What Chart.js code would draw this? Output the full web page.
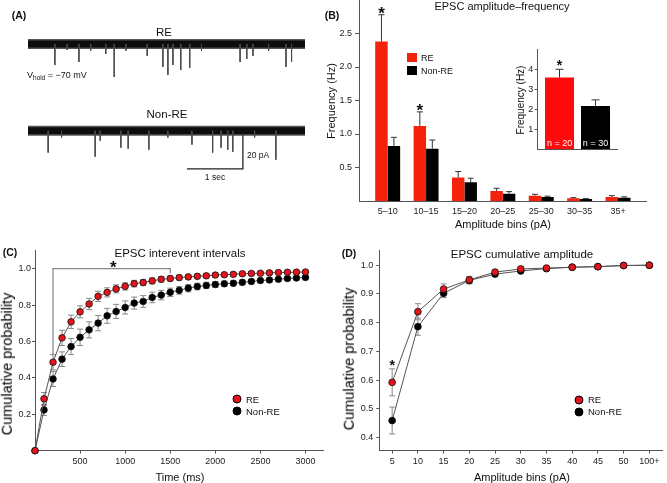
<!DOCTYPE html>
<html><head><meta charset="utf-8">
<script src="https://cdn.jsdelivr.net/npm/chart.js@4.4.1/dist/chart.umd.min.js"></script>
<style>
html,body{margin:0;padding:0;background:#fff;}
#fig{position:relative;width:667px;height:483px;overflow:hidden;font-family:"Liberation Sans",Arial,sans-serif;color:#111;}
.box{position:absolute;}
.t{position:absolute;white-space:nowrap;transform:translate(-50%,-50%);line-height:1;}
.tl{position:absolute;white-space:nowrap;transform:translate(0,-50%);line-height:1;}
.rot{position:absolute;white-space:nowrap;transform:translate(-50%,-50%) rotate(-90deg);line-height:1;}
.dot{position:absolute;border-radius:50%;border:1px solid #000;transform:translate(-50%,-50%);box-sizing:border-box;}
.sq{position:absolute;}
.pl{font-weight:bold;font-size:10.5px;}
</style></head><body>
<div id="fig">
  <div class="box" style="left:0;top:0;"><canvas id="cA" width="320" height="200"></canvas></div>
  <div class="box" style="left:320px;top:0;"><canvas id="cB" width="347" height="240"></canvas></div>
  <div class="box" style="left:490px;top:40px;"><canvas id="cI" width="140" height="120"></canvas></div>
  <div class="box" style="left:0;top:240px;"><canvas id="cC" width="335" height="243"></canvas></div>
  <div class="box" style="left:335px;top:240px;"><canvas id="cD" width="332" height="243"></canvas></div>

  <!-- Panel A text -->
  <div class="t pl" style="left:19px;top:15px;">(A)</div>
  <div class="t" style="left:164px;top:33px;font-size:11.5px;">RE</div>
  <div class="t" style="left:167px;top:115px;font-size:11.5px;">Non-RE</div>
  <div class="tl" style="left:27px;top:76px;font-size:9px;">V<sub style="font-size:6.5px;vertical-align:-2px;">hold</sub> = −70 mV</div>
  <div class="tl" style="left:247px;top:155px;font-size:8.5px;">20 pA</div>
  <div class="t" style="left:215px;top:177px;font-size:8.5px;">1 sec</div>

  <!-- Panel B text -->
  <div class="t pl" style="left:332px;top:15px;">(B)</div>
  <div class="t" style="left:502px;top:6px;font-size:11px;">EPSC amplitude–frequency</div>
  <div class="rot" style="left:331px;top:101px;font-size:11px;">Frequency (Hz)</div>
  <div class="t" style="left:503px;top:224px;font-size:11px;">Amplitude bins (pA)</div>
  <div class="sq" style="left:407px;top:53px;width:10px;height:9px;background:#f3230b;"></div>
  <div class="sq" style="left:407px;top:66px;width:10px;height:9px;background:#000;"></div>
  <div class="tl" style="left:421px;top:58px;font-size:9px;">RE</div>
  <div class="tl" style="left:421px;top:71px;font-size:9px;">Non-RE</div>
  <div class="rot" style="left:521px;top:100px;font-size:10px;">Frequency (Hz)</div>

  <!-- Panel C text -->
  <div class="t pl" style="left:10px;top:252px;">(C)</div>
  <div class="t" style="left:180px;top:254px;font-size:11.5px;">EPSC interevent intervals</div>
  <div class="rot" style="left:6.5px;top:364px;font-size:14.5px;color:#000;">Cumulative probability</div>
  <div class="t" style="left:180px;top:477px;font-size:11px;">Time (ms)</div>
  <div class="dot" style="left:237px;top:399px;width:9px;height:9px;background:#e3141b;"></div>
  <div class="dot" style="left:237px;top:411px;width:9px;height:9px;background:#000;"></div>
  <div class="tl" style="left:246px;top:399.5px;font-size:9.5px;">RE</div>
  <div class="tl" style="left:246px;top:411.5px;font-size:9.5px;">Non-RE</div>

  <!-- Panel D text -->
  <div class="t pl" style="left:349px;top:253px;">(D)</div>
  <div class="t" style="left:522px;top:255px;font-size:11.5px;">EPSC cumulative amplitude</div>
  <div class="rot" style="left:348.5px;top:359px;font-size:14.5px;color:#000;">Cumulative probability</div>
  <div class="t" style="left:522px;top:477px;font-size:11px;">Amplitude bins (pA)</div>
  <div class="dot" style="left:578.5px;top:399.5px;width:9px;height:9px;background:#e3141b;"></div>
  <div class="dot" style="left:578.5px;top:411.5px;width:9px;height:9px;background:#000;"></div>
  <div class="tl" style="left:588px;top:400px;font-size:9.5px;">RE</div>
  <div class="tl" style="left:588px;top:412px;font-size:9.5px;">Non-RE</div>
</div>
<script>
// ================= DATA =================
// Panel A: example traces (events)
const traceDurationSec = 4.95;
const reEventTimeSec = [0.48, 0.70, 0.91, 1.12, 1.39, 1.54, 1.75, 2.13, 2.41, 2.50, 2.59, 2.73, 2.89, 3.10, 3.79, 3.91, 4.02, 4.30, 4.61, 4.71];
const reEventAmpPA  = [12.4, 3.5, 10.6, 4.0, 5.9, 19.4, 4.0, 7.0, 13.5, 18.2, 12.4, 15.3, 14.1, 4.0, 10.6, 8.8, 7.0, 4.0, 13.5, 10.6];
const nonReEventTimeSec = [0.36, 0.60, 1.20, 1.29, 1.66, 1.79, 2.16, 2.50, 2.93, 3.30, 3.45, 3.57, 3.66, 4.05, 4.43];
const nonReEventAmpPA  = [12.9, 4.0, 15.3, 5.9, 10.0, 10.6, 11.2, 4.0, 8.2, 12.9, 10.0, 11.2, 12.4, 4.0, 17.1];
const scaleBarSec = 1;
const scaleBarPA = 20;

// Panel B: amplitude-frequency histogram
const ampBins = ['5–10', '10–15', '15–20', '20–25', '25–30', '30–35', '35+'];
const freqRE = [2.38, 1.12, 0.35, 0.15, 0.08, 0.04, 0.06];
const freqRESem = [0.40, 0.21, 0.09, 0.04, 0.02, 0.01, 0.02];
const freqNonRE = [0.82, 0.78, 0.28, 0.11, 0.06, 0.03, 0.05];
const freqNonRESem = [0.13, 0.13, 0.06, 0.03, 0.012, 0.006, 0.012];
const freqTicks = [0.5, 1.0, 1.5, 2.0, 2.5];
const starBinsB = [0, 1];
const starLevelsB = [2.86, 1.41];

// Panel B inset: mean frequency
const insetGroups = ['RE', 'Non-RE'];
const insetFreq = [3.59, 2.17];
const insetSem = [0.41, 0.30];
const insetN = ['n = 20', 'n = 30'];
const insetTicks = [1, 2, 3, 4];
const insetStarLevel = 4.35;

// Panel C: cumulative interevent intervals
const ieiTimeMs = [0,100,200,300,400,500,600,700,800,900,1000,1100,1200,1300,1400,1500,1600,1700,1800,1900,2000,2100,2200,2300,2400,2500,2600,2700,2800,2900,3000];
const ieiRE = [0,0.285,0.486,0.62,0.708,0.763,0.806,0.848,0.87,0.889,0.903,0.918,0.924,0.933,0.942,0.946,0.951,0.955,0.958,0.961,0.965,0.967,0.969,0.972,0.974,0.975,0.977,0.979,0.98,0.981,0.982];
const ieiRESem = [0,0.035,0.042,0.042,0.037,0.033,0.031,0.028,0.025,0.022,0.02,0.018,0.017,0.016,0.015,0.014,0.013,0.013,0.012,0.012,0.011,0.011,0.01,0.01,0.01,0.009,0.009,0.009,0.008,0.008,0.008];
const ieiNonRE = [0,0.224,0.394,0.503,0.572,0.623,0.664,0.701,0.741,0.765,0.787,0.811,0.82,0.842,0.855,0.87,0.881,0.893,0.902,0.908,0.913,0.917,0.92,0.925,0.93,0.935,0.938,0.942,0.946,0.949,0.952];
const ieiNonRESem = [0,0.03,0.041,0.04,0.044,0.045,0.044,0.042,0.041,0.039,0.036,0.033,0.032,0.029,0.026,0.023,0.021,0.02,0.018,0.017,0.016,0.015,0.014,0.014,0.013,0.012,0.012,0.011,0.011,0.01,0.01];
const ieiXTicks = [500, 1000, 1500, 2000, 2500, 3000];
const ieiYTicks = [0.2, 0.4, 0.6, 0.8, 1.0];
const bracketMs = [200, 1500];
const bracketLevels = [1.0, 0.53, 0.975]; // top, left leg end, right leg end
const ieiStar = [868, 1.03];

// Panel D: cumulative amplitude
const cumBins = ['5', '10', '15', '20', '25', '30', '35', '40', '45', '50', '100+'];
const cumRE = [0.592, 0.838, 0.917, 0.949, 0.976, 0.987, 0.990, 0.993, 0.995, 0.999, 1.0];
const cumRESem = [0.047, 0.028, 0.018, 0.012, 0.008, 0.006, 0.005, 0.004, 0.003, 0.002, 0];
const cumNonRE = [0.459, 0.786, 0.902, 0.947, 0.969, 0.980, 0.988, 0.993, 0.995, 0.999, 1.0];
const cumNonRESem = [0.047, 0.030, 0.015, 0.012, 0.008, 0.006, 0.005, 0.004, 0.003, 0.002, 0];
const cumYTicks = [0.4, 0.5, 0.6, 0.7, 0.8, 0.9, 1.0];
const cumStarLevel = 0.665;

// ================= STYLE / HELPERS =================
const FONT = '"Liberation Sans", Arial, sans-serif';
Chart.defaults.font.family = FONT;
Chart.defaults.color = '#222';
Chart.defaults.animation = false;
const AX = '#555';
const RED_B = '#f3230b', RED_I = '#ff0a0a', RED_P = '#e3141b';

function fixAxis(size, horiz) {
  return function (s) {
    if (horiz) s.height = size; else s.width = size;
    s.paddingTop = 0; s.paddingBottom = 0; s.paddingLeft = 0; s.paddingRight = 0;
  };
}
function setTicks(vals) { return function (s) { s.ticks = vals.map(v => ({ value: v })); }; }

function drawErrLayer(chart, layer) {
  const ctx = chart.ctx;
  chart.data.datasets.forEach((ds, i) => {
    if (!ds.errors || (ds.errLayer || 'after') !== layer) return;
    const meta = chart.getDatasetMeta(i);
    const ys = chart.scales[meta.yAxisID];
    ctx.save();
    ctx.strokeStyle = ds.errColor || '#333';
    ctx.lineWidth = 1;
    const cw = (ds.capW || 6) / 2;
    meta.data.forEach((el, j) => {
      const e = ds.errors[j];
      if (!e) return;
      const raw = ds.data[j];
      const v = (raw !== null && typeof raw === 'object') ? raw.y : raw;
      const x = el.x;
      const yT = ys.getPixelForValue(v + e);
      const yB = ds.errUpOnly ? el.y : ys.getPixelForValue(v - e);
      ctx.beginPath();
      ctx.moveTo(x, yB); ctx.lineTo(x, yT);
      ctx.moveTo(x - cw, yT); ctx.lineTo(x + cw, yT);
      if (!ds.errUpOnly) { ctx.moveTo(x - cw, yB); ctx.lineTo(x + cw, yB); }
      ctx.stroke();
    });
    ctx.restore();
  });
}
const errorBars = {
  id: 'errorBars',
  beforeDatasetsDraw(chart) { drawErrLayer(chart, 'before'); },
  afterDatasetsDraw(chart) { drawErrLayer(chart, 'after'); }
};
Chart.register(errorBars);

function drawStar(ctx, x, y, size) {
  ctx.save();
  ctx.font = 'bold ' + size + 'px ' + FONT;
  ctx.fillStyle = '#111';
  ctx.textAlign = 'center';
  ctx.textBaseline = 'alphabetic';
  ctx.fillText('*', x, y + 0.58 * size);
  ctx.restore();
}

function yAxis(min, max, ticks, width, tickLen, pad, fmt) {
  return {
    type: 'linear', min: min, max: max,
    afterBuildTicks: setTicks(ticks),
    afterFit: fixAxis(width, false),
    border: { display: true, color: AX, width: 1 },
    grid: { display: true, drawOnChartArea: false, drawTicks: true, tickLength: tickLen, color: AX, tickColor: AX },
    ticks: { font: { size: 9 }, color: '#222', padding: pad, autoSkip: false, callback: v => fmt(v) }
  };
}

// ================= PANEL A =================
const reOffset = 80, nonReOffset = 29;          // baseline level of each trace on the drawing axis (pA)
const scaleBarOrigin = [2.84, 6.5];             // sec, pA
function eventPoints(times, amps, off) {
  const pts = [];
  times.forEach((t, i) => { pts.push({ x: t, y: off }, { x: t, y: off - amps[i] }, { x: t, y: null }); });
  return pts;
}
function band(off) { return [{ x: 0, y: off }, { x: traceDurationSec, y: off }]; }
const lineBase = { pointRadius: 0, tension: 0, fill: false, spanGaps: false, borderCapStyle: 'butt' };
new Chart(document.getElementById('cA'), {
  type: 'line',
  data: {
    datasets: [
      Object.assign({ data: eventPoints(reEventTimeSec, reEventAmpPA, reOffset), borderColor: '#4a4a4a', borderWidth: 1 }, lineBase),
      Object.assign({ data: eventPoints(nonReEventTimeSec, nonReEventAmpPA, nonReOffset), borderColor: '#4a4a4a', borderWidth: 1 }, lineBase),
      Object.assign({ data: [
        { x: scaleBarOrigin[0], y: scaleBarOrigin[1] },
        { x: scaleBarOrigin[0] + scaleBarSec, y: scaleBarOrigin[1] },
        { x: scaleBarOrigin[0] + scaleBarSec, y: scaleBarOrigin[1] + scaleBarPA }], borderColor: '#222', borderWidth: 1.3 }, lineBase),
      Object.assign({ data: band(reOffset), borderColor: '#0d0d0d', borderWidth: 7 }, lineBase),
      Object.assign({ data: band(nonReOffset), borderColor: '#0d0d0d', borderWidth: 7 }, lineBase),
      Object.assign({ data: band(reOffset), borderColor: '#555', borderWidth: 10 }, lineBase),
      Object.assign({ data: band(nonReOffset), borderColor: '#555', borderWidth: 10 }, lineBase)
    ]
  },
  options: {
    responsive: false,
    layout: { padding: { left: 28, right: 15, top: 30, bottom: 20 } },
    plugins: { legend: { display: false }, tooltip: { enabled: false } },
    scales: {
      x: { type: 'linear', display: false, min: 0, max: traceDurationSec },
      y: { type: 'linear', display: false, min: 0, max: 88.2 }
    }
  }
});

// ================= PANEL B =================
new Chart(document.getElementById('cB'), {
  type: 'bar',
  data: {
    datasets: [
      { label: 'RE', data: ampBins.map((b, i) => ({ x: i, y: freqRE[i] })), backgroundColor: RED_B,
        errors: freqRESem, errUpOnly: true, errColor: '#333', capW: 6, categoryPercentage: 0.65, barPercentage: 1 },
      { label: 'Non-RE', data: ampBins.map((b, i) => ({ x: i, y: freqNonRE[i] })), backgroundColor: '#000',
        errors: freqNonRESem, errUpOnly: true, errColor: '#333', capW: 6, categoryPercentage: 0.65, barPercentage: 1 }
    ]
  },
  options: {
    responsive: false,
    layout: { padding: { left: 0, right: 20.3, top: 0, bottom: 0 } },
    plugins: { legend: { display: false }, tooltip: { enabled: false } },
    scales: {
      x: {
        type: 'linear', min: -0.747, max: ampBins.length - 1 + 0.747, offset: false,
        afterBuildTicks: setTicks(ampBins.map((b, i) => i)),
        afterFit: fixAxis(39, true),
        border: { display: true, color: AX, width: 1 },
        grid: { display: false, drawTicks: false },
        ticks: { font: { size: 9 }, color: '#222', padding: 5, autoSkip: false, maxRotation: 0, callback: v => ampBins[v] }
      },
      y: yAxis(0, 3.0, freqTicks, 39, 4, 3, v => v.toFixed(1))
    }
  },
  plugins: [{
    id: 'starsB',
    afterDraw(chart) {
      const meta = chart.getDatasetMeta(0);
      const ys = chart.scales.y;
      starBinsB.forEach((b, k) => drawStar(chart.ctx, meta.data[b].x, ys.getPixelForValue(starLevelsB[k]), 17));
    }
  }]
});

// ================= INSET =================
new Chart(document.getElementById('cI'), {
  type: 'bar',
  data: {
    datasets: [{
      data: insetGroups.map((g, i) => ({ x: i, y: insetFreq[i] })),
      backgroundColor: [RED_I, '#000'],
      errors: insetSem, errUpOnly: true, errColor: '#333', capW: 8,
      categoryPercentage: 0.806, barPercentage: 1
    }]
  },
  options: {
    responsive: false,
    layout: { padding: { left: 0, right: 13, top: 9.3, bottom: 0 } },
    plugins: { legend: { display: false }, tooltip: { enabled: false } },
    scales: {
      x: {
        type: 'linear', min: -0.606, max: 1.597, offset: false,
        afterBuildTicks: setTicks(insetGroups.map((g, i) => i)),
        afterFit: fixAxis(10.7, true),
        border: { display: true, color: AX, width: 1 },
        grid: { display: false, drawTicks: false },
        ticks: { display: false }
      },
      y: yAxis(0, 5, insetTicks, 47.7, 3, 1.5, v => String(v))
    }
  },
  plugins: [{
    id: 'insetMarks',
    afterDraw(chart) {
      const ctx = chart.ctx, meta = chart.getDatasetMeta(0), ys = chart.scales.y;
      ctx.save();
      ctx.font = '9px ' + FONT; ctx.fillStyle = '#fff'; ctx.textAlign = 'center'; ctx.textBaseline = 'middle';
      meta.data.forEach((el, i) => ctx.fillText(insetN[i], el.x, ys.getPixelForValue(0) - 6));
      ctx.restore();
      drawStar(ctx, meta.data[0].x, ys.getPixelForValue(insetStarLevel), 14);
    }
  }]
});

// ================= PANEL C =================
const ptStyle = { pointRadius: 3.3, pointBorderWidth: 0.8, pointBorderColor: '#111', borderColor: '#555', borderWidth: 1, tension: 0, clip: false };
new Chart(document.getElementById('cC'), {
  type: 'line',
  data: {
    datasets: [
      Object.assign({ label: 'RE', data: ieiTimeMs.map((t, i) => ({ x: t, y: ieiRE[i] })), pointBackgroundColor: RED_P,
        errors: ieiRESem, errColor: '#888', errLayer: 'before', capW: 6 }, ptStyle),
      Object.assign({ label: 'Non-RE', data: ieiTimeMs.map((t, i) => ({ x: t, y: ieiNonRE[i] })), pointBackgroundColor: '#000',
        errors: ieiNonRESem, errColor: '#888', errLayer: 'before', capW: 6 }, ptStyle)
    ]
  },
  options: {
    responsive: false,
    layout: { padding: { left: 0, right: 11.5, top: 10.5, bottom: 0 } },
    plugins: { legend: { display: false }, tooltip: { enabled: false } },
    scales: {
      x: {
        type: 'linear', min: 0, max: 3200,
        afterBuildTicks: setTicks(ieiXTicks),
        afterFit: fixAxis(32.3, true),
        border: { display: true, color: AX, width: 1 },
        grid: { display: true, drawOnChartArea: false, drawTicks: true, tickLength: 3, color: AX, tickColor: AX },
        ticks: { font: { size: 9 }, color: '#222', padding: 2, autoSkip: false, maxRotation: 0, callback: v => String(v) }
      },
      y: yAxis(0, 1.1, ieiYTicks, 35, 3, 1, v => v.toFixed(1))
    }
  },
  plugins: [{
    id: 'bracketC',
    afterDatasetsDraw(chart) {
      const ctx = chart.ctx, xs = chart.scales.x, ys = chart.scales.y;
      const x0 = xs.getPixelForValue(bracketMs[0]), x1 = xs.getPixelForValue(bracketMs[1]);
      const yt = ys.getPixelForValue(bracketLevels[0]);
      ctx.save();
      ctx.strokeStyle = '#8a8a8a'; ctx.lineWidth = 1.3;
      ctx.beginPath();
      ctx.moveTo(x0, ys.getPixelForValue(bracketLevels[1]));
      ctx.lineTo(x0, yt); ctx.lineTo(x1, yt);
      ctx.lineTo(x1, ys.getPixelForValue(bracketLevels[2]));
      ctx.stroke();
      ctx.restore();
      drawStar(ctx, xs.getPixelForValue(ieiStar[0]), ys.getPixelForValue(ieiStar[1]), 17);
    }
  }]
});

// ================= PANEL D =================
new Chart(document.getElementById('cD'), {
  type: 'line',
  data: {
    labels: cumBins,
    datasets: [
      Object.assign({ label: 'RE', data: cumRE, pointBackgroundColor: RED_P,
        errors: cumRESem, errColor: '#888', errLayer: 'before', capW: 6 }, ptStyle, { pointRadius: 3.4 }),
      Object.assign({ label: 'Non-RE', data: cumNonRE, pointBackgroundColor: '#000',
        errors: cumNonRESem, errColor: '#888', errLayer: 'before', capW: 6 }, ptStyle, { pointRadius: 3.4 })
    ]
  },
  options: {
    responsive: false,
    layout: { padding: { left: 0, right: 2, top: 10, bottom: 0 } },
    plugins: { legend: { display: false }, tooltip: { enabled: false } },
    scales: {
      x: {
        type: 'category', offset: true,
        afterFit: fixAxis(32.3, true),
        border: { display: true, color: AX, width: 1 },
        grid: { display: true, offset: false, drawOnChartArea: false, drawTicks: true, tickLength: 3, color: AX, tickColor: AX },
        ticks: { font: { size: 9 }, color: '#222', padding: 2, autoSkip: false, maxRotation: 0 }
      },
      y: yAxis(0.354, 1.053, cumYTicks, 44.3, 3, 3, v => v.toFixed(1))
    }
  },
  plugins: [{
    id: 'starD',
    afterDatasetsDraw(chart) {
      const meta = chart.getDatasetMeta(0);
      drawStar(chart.ctx, meta.data[0].x, chart.scales.y.getPixelForValue(cumStarLevel), 14);
    }
  }]
});
</script>
</body></html>
